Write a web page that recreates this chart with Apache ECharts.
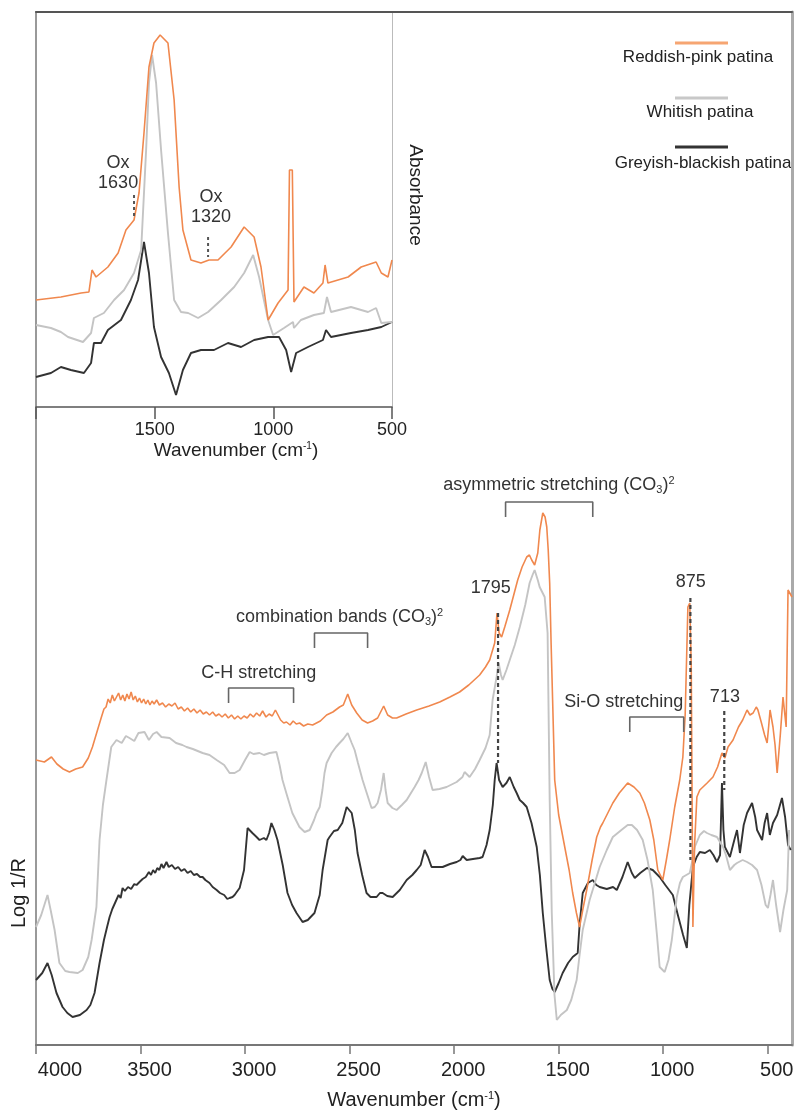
<!DOCTYPE html>
<html><head><meta charset="utf-8">
<script src="https://cdn.jsdelivr.net/npm/echarts@6/dist/echarts.min.js"></script>
<style>html,body{margin:0;padding:0;background:#fff}#c{width:796px;height:1113px}</style>
</head><body><div id="c"></div>
<script>
const FONT = 'Liberation Sans, Arial, sans-serif';
const seriesNames = ['Reddish-pink patina', 'Whitish patina', 'Greyish-blackish patina'];
const seriesColors = ['#f0884e', '#c4c4c4', '#333333'];
const legendColors = ['#f6a572', '#c8c8c8', '#333333'];
const mainTicks = [4000, 3500, 3000, 2500, 2000, 1500, 1000, 500];
const insetTicks = [2000, 1500, 1000, 500];
const insetLabels = [1500, 1000, 500];

// main spectra: [wavenumber, log 1/R (arbitrary units)]
const reddishMain = [[4000,285],[3993,285],[3960,283],[3926,288],[3900,281],[3870,276],[3840,273],[3810,276],[3777,278],[3750,287],[3730,298],[3710,312],[3687,328],[3675,336],[3665,338],[3655,346],[3645,342],[3635,350],[3625,344],[3615,348],[3605,352],[3595,345],[3585,350],[3575,344],[3565,351],[3555,346],[3545,353],[3535,345],[3525,349],[3515,343],[3505,347],[3495,342],[3485,346],[3475,341],[3465,345],[3455,340],[3445,344],[3435,341],[3423,345],[3410,340],[3395,342],[3380,338],[3365,341],[3350,339],[3335,342],[3320,336],[3305,338],[3290,334],[3275,337],[3260,333],[3245,336],[3230,332],[3215,335],[3200,331],[3185,333],[3170,330],[3155,333],[3140,329],[3125,331],[3110,328],[3095,331],[3080,327],[3065,330],[3050,326],[3035,329],[3020,326],[3005,329],[2990,327],[2975,331],[2960,328],[2945,332],[2930,329],[2916,334],[2900,328],[2885,331],[2870,329],[2855,335],[2845,331],[2830,325],[2815,322],[2802,323],[2785,320],[2770,324],[2755,321],[2739,322],[2720,319],[2700,321],[2677,320],[2640,324],[2610,330],[2580,333],[2548,338],[2530,340],[2509,351],[2490,340],[2466,332],[2440,325],[2414,322],[2390,324],[2366,327],[2337,339],[2318,330],[2295,327],[2275,327],[2230,331],[2179,335],[2120,339],[2069,343],[2020,348],[1974,353],[1930,360],[1878,370],[1850,378],[1830,385],[1806,402],[1795,432],[1785,412],[1773,408],[1758,418],[1734,435],[1715,450],[1696,465],[1675,478],[1653,488],[1640,490],[1629,485],[1615,480],[1600,492],[1590,515],[1576,532],[1565,528],[1557,518],[1550,495],[1543,462],[1536,400],[1529,345],[1519,265],[1500,230],[1471,198],[1450,175],[1433,152],[1415,132],[1400,118],[1385,135],[1366,155],[1340,185],[1318,208],[1300,218],[1289,222],[1265,232],[1241,242],[1210,252],[1170,262],[1140,258],[1112,252],[1090,242],[1064,225],[1045,205],[1026,175],[1002,165],[985,185],[969,205],[945,238],[921,265],[906,288],[895,330],[882,438],[873,442],[866,380],[858,118],[850,200],[839,248],[825,255],[810,258],[790,262],[762,268],[740,278],[719,292],[705,287],[690,298],[666,305],[640,318],[620,325],[599,335],[585,330],[570,332],[555,338],[547,335],[530,322],[515,310],[503,302],[495,320],[489,335],[475,318],[465,300],[455,272],[440,310],[427,348],[418,330],[412,318],[403,455],[384,448]];
const whitishMain = [[4000,118],[3975,130],[3945,150],[3930,135],[3911,115],[3888,82],[3860,74],[3840,73],[3800,72],[3777,75],[3750,88],[3734,105],[3711,138],[3696,205],[3680,240],[3663,265],[3640,298],[3615,305],[3590,302],[3570,309],[3553,307],[3530,304],[3510,312],[3481,313],[3460,305],[3440,311],[3423,313],[3400,308],[3361,307],[3330,302],[3300,300],[3280,298],[3250,296],[3203,292],[3170,290],[3136,285],[3100,280],[3074,272],[3050,272],[3026,275],[3000,285],[2978,293],[2960,291],[2931,292],[2910,290],[2883,292],[2850,293],[2835,280],[2821,265],[2800,250],[2774,232],[2740,218],[2715,213],[2691,215],[2670,225],[2658,232],[2643,238],[2630,255],[2620,272],[2610,282],[2586,292],[2565,298],[2548,302],[2530,306],[2509,312],[2490,302],[2476,295],[2460,282],[2438,265],[2415,250],[2395,237],[2380,238],[2366,242],[2350,255],[2337,272],[2328,255],[2318,242],[2295,237],[2275,235],[2250,240],[2227,245],[2189,258],[2170,265],[2155,272],[2136,283],[2120,268],[2103,255],[2070,256],[2036,258],[1988,263],[1960,268],[1950,273],[1926,268],[1900,276],[1878,285],[1850,297],[1830,310],[1816,345],[1797,368],[1787,382],[1776,370],[1768,365],[1750,375],[1734,385],[1710,400],[1686,418],[1660,440],[1639,462],[1625,470],[1615,475],[1600,465],[1591,458],[1567,448],[1553,412],[1543,245],[1533,132],[1520,50],[1509,25],[1490,30],[1461,35],[1440,45],[1414,65],[1400,90],[1385,115],[1352,145],[1330,160],[1304,178],[1270,195],[1241,208],[1200,215],[1170,220],[1150,220],[1125,215],[1098,205],[1075,185],[1050,155],[1030,110],[1017,78],[993,73],[975,85],[959,105],[935,148],[920,162],[906,168],[873,172],[860,185],[849,198],[825,210],[805,214],[791,212],[770,210],[743,208],[714,198],[700,190],[681,175],[660,180],[647,182],[620,185],[599,183],[575,180],[551,175],[530,160],[510,140],[499,137],[487,150],[475,165],[460,140],[441,113],[425,135],[407,155],[398,215]];
const greyishMain = [[4000,65],[3970,72],[3945,82],[3925,70],[3902,52],[3873,38],[3850,32],[3825,28],[3790,30],[3758,35],[3740,40],[3720,52],[3696,82],[3675,105],[3660,118],[3648,128],[3635,136],[3620,143],[3605,150],[3595,147],[3586,157],[3575,154],[3560,158],[3545,156],[3530,161],[3519,160],[3505,163],[3490,166],[3475,168],[3460,173],[3450,170],[3440,175],[3430,172],[3420,177],[3410,175],[3400,181],[3390,177],[3376,183],[3365,178],[3350,180],[3335,176],[3320,178],[3305,174],[3290,176],[3275,172],[3260,174],[3245,170],[3230,171],[3215,168],[3203,168],[3190,165],[3170,162],[3155,158],[3136,155],[3120,152],[3100,150],[3085,146],[3074,147],[3060,148],[3050,150],[3040,153],[3026,157],[3005,175],[2988,217],[2965,212],[2945,208],[2931,205],[2910,207],[2898,205],[2885,212],[2874,222],[2860,215],[2845,205],[2820,180],[2797,152],[2775,140],[2754,132],[2725,123],[2700,125],[2668,132],[2643,150],[2629,175],[2605,205],[2596,208],[2575,214],[2557,215],[2535,222],[2514,238],[2490,232],[2475,215],[2462,192],[2440,170],[2419,152],[2400,148],[2371,148],[2355,152],[2342,152],[2320,149],[2294,148],[2260,155],[2227,165],[2200,170],[2179,175],[2160,180],[2141,195],[2125,188],[2108,178],[2080,178],[2055,178],[2020,181],[1988,183],[1970,185],[1959,189],[1940,185],[1910,186],[1878,187],[1864,188],[1845,200],[1830,215],[1815,240],[1806,265],[1797,282],[1785,265],[1768,258],[1750,262],[1734,268],[1715,258],[1701,252],[1686,245],[1670,242],[1653,238],[1630,222],[1605,198],[1590,170],[1576,132],[1560,98],[1543,65],[1530,56],[1519,53],[1500,62],[1481,72],[1455,82],[1433,88],[1409,92],[1400,120],[1385,152],[1360,162],[1337,165],[1320,160],[1304,158],[1270,156],[1240,158],[1222,155],[1195,168],[1170,183],[1150,172],[1136,167],[1110,172],[1078,177],[1050,175],[1017,168],[990,160],[954,150],[930,130],[905,110],[887,97],[875,140],[858,178],[840,188],[825,193],[800,192],[777,195],[760,190],[743,183],[728,190],[719,262],[712,215],[705,198],[681,188],[660,205],[647,215],[633,192],[615,220],[599,232],[575,242],[560,228],[551,215],[527,205],[515,222],[503,232],[490,210],[475,222],[455,230],[432,247],[417,228],[403,200],[390,195]];

// inset spectra: [wavenumber, absorbance (arbitrary units)]
const reddishInset = [[2000,107],[1895,110],[1810,114],[1777,115],[1764,137],[1747,130],[1697,140],[1654,154],[1621,177],[1587,187],[1566,214],[1545,274],[1524,340],[1503,364],[1477,372],[1444,364],[1418,307],[1397,220],[1381,177],[1347,147],[1305,144],[1271,147],[1233,147],[1178,160],[1123,180],[1081,170],[1052,140],[1022,87],[980,104],[938,117],[932,237],[920,237],[913,105],[871,120],[829,114],[791,124],[782,142],[770,124],[685,130],[630,140],[567,145],[545,134],[517,130],[500,147]];
const whitishInset = [[2000,82],[1937,79],[1895,75],[1865,70],[1802,65],[1768,74],[1756,89],[1714,94],[1671,107],[1629,117],[1587,134],[1557,157],[1536,257],[1524,324],[1511,352],[1494,324],[1473,257],[1444,174],[1418,107],[1389,95],[1359,94],[1317,89],[1275,95],[1220,107],[1165,120],[1123,134],[1085,152],[1060,130],[1022,87],[1001,72],[955,79],[917,85],[913,79],[884,87],[829,92],[787,94],[774,110],[757,95],[673,100],[601,95],[567,99],[545,84],[500,85]];
const greyishInset = [[2000,30],[1937,34],[1895,40],[1853,37],[1798,34],[1768,44],[1756,64],[1726,64],[1697,77],[1642,87],[1600,107],[1570,127],[1545,165],[1524,134],[1503,80],[1473,50],[1440,34],[1410,12],[1381,37],[1347,54],[1305,57],[1250,57],[1191,64],[1136,60],[1081,67],[1022,70],[976,70],[946,57],[925,35],[904,54],[854,60],[791,67],[778,77],[757,70],[673,74],[601,77],[545,80],[500,85]];

// annotations (data coordinates)
const mainMarkers = [{text:'1795', wn:1790, top:432, bottom:282, labelWn:1825, labelY:457},
                     {text:'875', wn:870, top:447, bottom:185, labelWn:868, labelY:463},
                     {text:'713', wn:708, top:334, bottom:255, labelWn:705, labelY:348}];
const mainBrackets = [{text:'C-H stretching', from:3079, to:2768, top:357, bottom:342, labelWn:2935, labelY:372},
                      {text:'combination bands (CO{sub|3}){sup|2}', from:2668, to:2414, top:412, bottom:397, labelWn:2548, labelY:428},
                      {text:'asymmetric stretching (CO{sub|3}){sup|2}', from:1754, to:1337, top:543, bottom:528, labelWn:1499, labelY:560},
                      {text:'Si-O stretching', from:1160, to:902, top:328, bottom:313, labelWn:1189, labelY:343}];
const insetMarkers = [{text:'Ox\n1630', wn:1587, top:212, bottom:189, labelWn:1654, labelY:234},
                      {text:'Ox\n1320', wn:1275, top:170, bottom:150, labelWn:1263, labelY:200}];

const mainSeries = [reddishMain, whitishMain, greyishMain];
const insetSeries = [reddishInset, whitishInset, greyishInset];

const chart = echarts.init(document.getElementById('c'), null, {renderer: 'canvas'});

const series = [];
[2,1,0].forEach(i => {
  series.push({type:'line', name: seriesNames[i], xAxisIndex:0, yAxisIndex:0, data: mainSeries[i],
    showSymbol:false, symbol:'none', animation:false, z: 2,
    lineStyle:{color: seriesColors[i], width: i===0 ? 1.6 : 1.9}});
  series.push({type:'line', name: seriesNames[i], xAxisIndex:1, yAxisIndex:2, data: insetSeries[i],
    showSymbol:false, symbol:'none', animation:false, z: 2,
    lineStyle:{color: seriesColors[i], width: i===0 ? 1.6 : 1.9}});
});
mainMarkers.forEach(m => series.push({type:'line', xAxisIndex:0, yAxisIndex:0, data:[[m.wn,m.top],[m.wn,m.bottom]],
  showSymbol:false, symbol:'none', animation:false, z:4, silent:true,
  lineStyle:{color:'#444', width:2.2, type:[4,3]}}));
mainBrackets.forEach(b => series.push({type:'line', xAxisIndex:0, yAxisIndex:0,
  data:[[b.from,b.bottom],[b.from,b.top],[b.to,b.top],[b.to,b.bottom]],
  showSymbol:false, symbol:'none', animation:false, z:4, silent:true,
  lineStyle:{color:'#666', width:1.6}}));
insetMarkers.forEach(m => series.push({type:'line', xAxisIndex:1, yAxisIndex:2, data:[[m.wn,m.top],[m.wn,m.bottom]],
  showSymbol:false, symbol:'none', animation:false, z:4, silent:true,
  lineStyle:{color:'#555', width:2, type:[3,3]}}));

const option = {
  animation: false,
  backgroundColor: '#fff',
  textStyle: {fontFamily: FONT},
  grid: [
    {left: 36, top: 12, width: 756, height: 1033, outerBoundsMode: 'none', containLabel: false},
    {left: 36, top: 12, width: 356, height: 395, outerBoundsMode: 'none', containLabel: false}
  ],
  xAxis: [
    {gridIndex:0, type:'value', min:384, max:4000, inverse:true,
     axisLine:{show:true, onZero:false, lineStyle:{color:'#777', width:2}},
     axisTick:{show:true, customValues: mainTicks, length:9, lineStyle:{color:'#777', width:1.5}},
     axisLabel:{show:true, customValues: mainTicks, margin:15, color:'#222', fontSize:20, fontFamily:FONT,
       formatter: v => (v === 4000 ? '{f|' : '{n|') + v + '}',
       rich:{f:{fontSize:20, color:'#222', fontFamily:FONT, padding:[0,0,0,48]},
             n:{fontSize:20, color:'#222', fontFamily:FONT, padding:[0,0,0,18]}}},
     splitLine:{show:false},
     name:'Wavenumber (cm{sup|-1})', nameLocation:'middle', nameGap:45,
     nameTextStyle:{fontSize:20, color:'#222', fontFamily:FONT, rich:{sup:{fontSize:11, verticalAlign:'top', color:'#222', fontFamily:FONT}}}},
    {gridIndex:1, type:'value', min:500, max:2000, inverse:true,
     axisLine:{show:true, onZero:false, lineStyle:{color:'#555', width:1.5}},
     axisTick:{show:true, customValues: insetTicks, length:12, lineStyle:{color:'#555', width:1.5}},
     axisLabel:{show:true, customValues: insetLabels, margin:14, color:'#222', fontSize:18, fontFamily:FONT,
       formatter: v => String(v)},
     splitLine:{show:false},
     name:'Wavenumber (cm{sup|-1})', nameLocation:'middle', nameGap:34,
     nameTextStyle:{fontSize:19, color:'#222', fontFamily:FONT, padding:[0,0,0,44], rich:{sup:{fontSize:10, verticalAlign:'top', color:'#222', fontFamily:FONT}}}},
    {gridIndex:0, type:'value', position:'top', min:384, max:4000, inverse:true,
     axisLine:{show:true, onZero:false, lineStyle:{color:'#555', width:2}},
     axisTick:{show:false}, axisLabel:{show:false}, splitLine:{show:false}}
  ],
  yAxis: [
    {gridIndex:0, type:'value', min:0, max:1033,
     axisLine:{show:true, onZero:false, lineStyle:{color:'#999', width:2}},
     axisTick:{show:false}, axisLabel:{show:false}, splitLine:{show:false}},
    {gridIndex:0, type:'value', position:'right', min:0, max:1033,
     axisLine:{show:true, onZero:false, lineStyle:{color:'#aaa', width:3}},
     axisTick:{show:false}, axisLabel:{show:false}, splitLine:{show:false}},
    {gridIndex:1, type:'value', min:0, max:395,
     axisLine:{show:false}, axisTick:{show:false}, axisLabel:{show:false}, splitLine:{show:false}},
    {gridIndex:1, type:'value', position:'right', min:0, max:395,
     axisLine:{show:true, onZero:false, lineStyle:{color:'#bbb', width:1}},
     axisTick:{show:false}, axisLabel:{show:false}, splitLine:{show:false}}
  ],
  series: series
};
chart.setOption(option);

// text annotations placed through the axes' scales
const graphics = [];
function addText(finder, wn, v, text, size) {
  const p = chart.convertToPixel(finder, [wn, v]);
  graphics.push({type:'text', x:p[0], y:p[1], z:10, silent:true,
    style:{text:text, fill:'#333', fontSize:size, fontFamily:FONT, align:'center', verticalAlign:'middle', lineHeight: size+2,
      rich:{sub:{fontSize:11, verticalAlign:'bottom', fill:'#333', fontFamily:FONT},
            sup:{fontSize:11, verticalAlign:'top', fill:'#333', fontFamily:FONT}}}});
}
const mainFinder = {xAxisIndex:0, yAxisIndex:0};
const insetFinder = {xAxisIndex:1, yAxisIndex:2};
mainMarkers.forEach(m => addText(mainFinder, m.labelWn, m.labelY, m.text, 18));
mainBrackets.forEach(b => addText(mainFinder, b.labelWn, b.labelY, b.text, 18));
insetMarkers.forEach(m => addText(insetFinder, m.labelWn, m.labelY, m.text, 18));

// axis titles on the side
graphics.push({type:'text', x:19, y:893, rotation:Math.PI/2, style:{text:'Log 1/R', fill:'#222', fontSize:20, fontFamily:FONT, align:'center', verticalAlign:'middle'}});
graphics.push({type:'text', x:415, y:195, rotation:-Math.PI/2, style:{text:'Absorbance', fill:'#222', fontSize:19, fontFamily:FONT, align:'center', verticalAlign:'middle'}});

// legend
const legendRows = [[43, 57, 698], [98, 112, 700], [147, 163, 703]];
legendRows.forEach((r, i) => {
  graphics.push({type:'line', shape:{x1:675, y1:r[0], x2:728, y2:r[0]}, style:{stroke:legendColors[i], lineWidth:3}});
  graphics.push({type:'text', x:r[2], y:r[1], style:{text:seriesNames[i], fill:'#222', fontSize:17, fontFamily:FONT, align:'center', verticalAlign:'middle'}});
});
chart.setOption({graphic: graphics});
</script></body></html>
